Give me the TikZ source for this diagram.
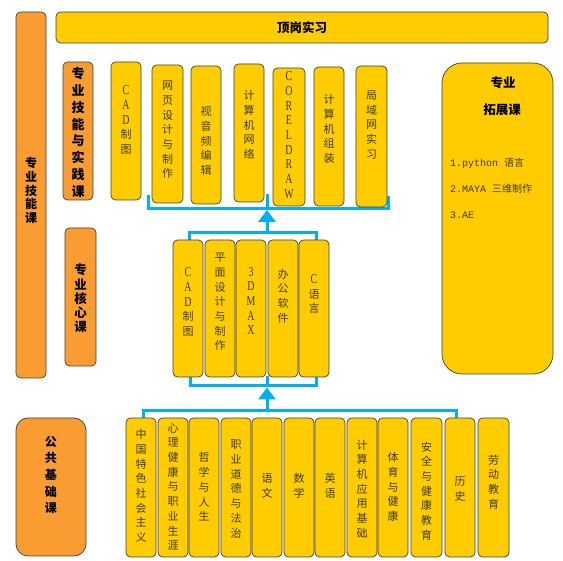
\documentclass[tikz,border=0pt]{standalone}
\usepackage{fontspec}
\setmainfont{Liberation Serif}
\newfontfamily\cjk{Noto Sans CJK SC}
\newfontfamily\lat{Liberation Serif}[Scale=1.25, FakeStretch=0.72]
\newfontfamily\mono{Liberation Mono}
\usetikzlibrary{arrows.meta}
\definecolor{ycol}{HTML}{FFCC00}
\definecolor{ocol}{HTML}{F99D32}
\definecolor{bcol}{HTML}{00B0F0}
\definecolor{bord}{HTML}{404040}
\definecolor{tcol}{HTML}{3C3C2C}
\tikzset{
  boxbase/.style={draw=bord, line width=0.7pt, inner sep=0pt, outer sep=0pt, anchor=north west, rounded corners=4.5pt},
  ybox/.style={boxbase, fill=ycol},
  obox/.style={boxbase, fill=ocol},
  vtext/.style={align=center, inner sep=0pt, text=tcol, font=\cjk\fontsize{11}{14.7}\selectfont},
  btext/.style={align=center, inner sep=0pt, text=black, font=\cjk\bfseries\fontsize{12.5}{14}\selectfont},
  conn/.style={draw=bcol, line width=3pt},
  arr/.style={conn, -{Triangle[width=17pt,length=12pt]}},
}
% name, x1, y1, x2, y2, text centre y, text, style
\newcommand\mybox[8]{%
  \node[#8, minimum width=#4pt-#2pt, minimum height=#5pt-#3pt] (#1) at (#2,#3) {};
  \node[vtext] (#1t) at ({(#2+#4)/2},#6) {#7};
}
\begin{document}
\begin{tikzpicture}[x=1pt,y=-1pt]
\useasboundingbox (0,0) rectangle (563,561);
% ---- connector coordinates
\coordinate (tbl) at (148,195);   \coordinate (tbr) at (388,196);
\coordinate (tbl2) at (148,208.5); \coordinate (tbr2) at (388,208.5);
\coordinate (ttk) at (267.5,194); \coordinate (ttk2) at (267.5,208.5);
\coordinate (tip1) at (267,210);
\coordinate (mul) at (189,241); \coordinate (mur) at (316,241);
\coordinate (mul2) at (189,232.5); \coordinate (mur2) at (316,232.5);
\coordinate (mc) at (267,232.5);
\coordinate (mll) at (190,376); \coordinate (mlr) at (316,376);
\coordinate (mll2) at (190,386); \coordinate (mlr2) at (316,386);
\coordinate (mlt) at (267,376); \coordinate (mlt2) at (267,386);
\coordinate (tip2) at (267,387.5);
\coordinate (bl) at (143,419); \coordinate (br) at (456,419);
\coordinate (bl2) at (143,410.5); \coordinate (br2) at (456,410.5);
\coordinate (bc) at (267,410.5);
% ---- connectors
\draw[conn] (tbl) -- (tbl2) -- (tbr2) -- (tbr);
\draw[conn] (ttk) -- (ttk2);
\draw[arr] (mc) -- (tip1);
\draw[conn] (mul) -- (mul2) -- (mur2) -- (mur);
\draw[conn] (mll) -- (mll2) -- (mlr2) -- (mlr);
\draw[conn] (mlt) -- (mlt2);
\draw[arr] (bc) -- (tip2);
\draw[conn] (bl) -- (bl2) -- (br2) -- (br);
% ---- category boxes
\node[obox, minimum width=30pt, minimum height=366pt] (skill) at (16,12) {};
\node[btext, font=\cjk\bfseries\fontsize{12}{13.8}\selectfont] (skillt) at (31,190.5) {专\\业\\技\\能\\课};
\node[obox, minimum width=30pt, minimum height=138pt] (prac) at (63,62) {};
\node[btext, font=\cjk\bfseries\fontsize{13}{16.8}\selectfont] (pract) at (78,132.5) {专\\业\\技\\能\\与\\实\\践\\课};
\node[obox, minimum width=31pt, minimum height=138pt] (core) at (65,228) {};
\node[btext, font=\cjk\bfseries\fontsize{12.5}{14.2}\selectfont] (coret) at (80.5,298.5) {专\\业\\核\\心\\课};
\node[obox, rounded corners=12pt, minimum width=70pt, minimum height=138pt] (pub) at (16,418) {};
\node[btext, font=\cjk\bfseries\fontsize{12}{16.6}\selectfont] (pubt) at (51,475) {公\\共\\基\\础\\课};
% ---- top bar
\node[ybox, minimum width=492pt, minimum height=31pt] (intern) at (56,12) {};
\node[btext] (internt) at (302,28) {顶岗实习};
% ---- extension box
\node[ybox, rounded corners=20pt, minimum width=111pt, minimum height=311pt] (ext) at (442,63) {};
\node[btext] (ext1) at (503,83) {专业};
\node[btext] (ext2) at (502,110) {拓展课};
\node[anchor=west, inner sep=0pt, text=tcol, font=\fontsize{10}{12}\selectfont] (e1) at (450,163) {\mono 1.python \cjk 语言};
\node[anchor=west, inner sep=0pt, text=tcol, font=\fontsize{10}{12}\selectfont] (e2) at (450,189) {\mono 2.MAYA \cjk 三维制作};
\node[anchor=west, inner sep=0pt, text=tcol, font=\fontsize{10}{12}\selectfont] (e3) at (450,215) {\mono 3.AE};
% ---- top row
\mybox{a1}{111}{62}{141}{200}{120}{{\lat C}\\{\lat A}\\{\lat D}\\制\\图}{ybox}
\mybox{a2}{152}{65}{183}{203}{130}{网\\页\\设\\计\\与\\制\\作}{ybox}
\mybox{a3}{191}{66}{221}{204}{141}{视\\音\\频\\编\\辑}{ybox}
\mybox{a4}{234}{64}{264}{202}{125}{计\\算\\机\\网\\络}{ybox}
\mybox{a5}{273}{68}{305}{206}{135}{{\lat C}\\{\lat O}\\{\lat R}\\{\lat E}\\{\lat L}\\{\lat D}\\{\lat R}\\{\lat A}\\{\lat W}}{ybox}
\mybox{a6}{314}{67}{344}{206}{129}{计\\算\\机\\组\\装}{ybox}
\mybox{a7}{356}{66}{387}{207}{125}{局\\域\\网\\实\\习}{ybox}
% ---- middle row
\mybox{b1}{173}{240}{203}{377}{302}{{\lat C}\\{\lat A}\\{\lat D}\\制\\图}{ybox}
\mybox{b2}{205}{240}{235}{377}{302}{平\\面\\设\\计\\与\\制\\作}{ybox}
\mybox{b3}{236}{240}{266}{377}{301}{{\lat 3}\\{\lat D}\\{\lat M}\\{\lat A}\\{\lat X}}{ybox}
\mybox{b4}{268}{240}{298}{377}{296}{办\\公\\软\\件}{ybox}
\mybox{b5}{299}{240}{329}{377}{294}{{\lat C}\\语\\言}{ybox}
% ---- bottom row
\mybox{c1}{126}{418}{156}{557}{486}{中\\国\\特\\色\\社\\会\\主\\义}{ybox}
\mybox{c2}{158}{418}{188}{557}{487}{心\\理\\健\\康\\与\\职\\业\\生\\涯}{ybox}
\mybox{c3}{189}{418}{219}{557}{487}{哲\\学\\与\\人\\生}{ybox}
\mybox{c4}{221}{418}{251}{557}{489}{职\\业\\道\\德\\与\\法\\治}{ybox}
\mybox{c5}{252}{418}{282}{557}{486}{语\\文}{ybox}
\mybox{c6}{284}{418}{314}{557}{486}{数\\学}{ybox}
\mybox{c7}{315}{418}{345}{557}{486}{英\\语}{ybox}
\mybox{c8}{347}{418}{377}{557}{489}{计\\算\\机\\应\\用\\基\\础}{ybox}
\mybox{c9}{378}{418}{408}{557}{487}{体\\育\\与\\健\\康}{ybox}
\mybox{c10}{411}{418}{442}{557}{491}{安\\全\\与\\健\\康\\教\\育}{ybox}
\mybox{c11}{445}{418}{475}{557}{489}{历\\史}{ybox}
\mybox{c12}{478}{418}{509}{557}{482}{劳\\动\\教\\育}{ybox}
\end{tikzpicture}
\end{document}
